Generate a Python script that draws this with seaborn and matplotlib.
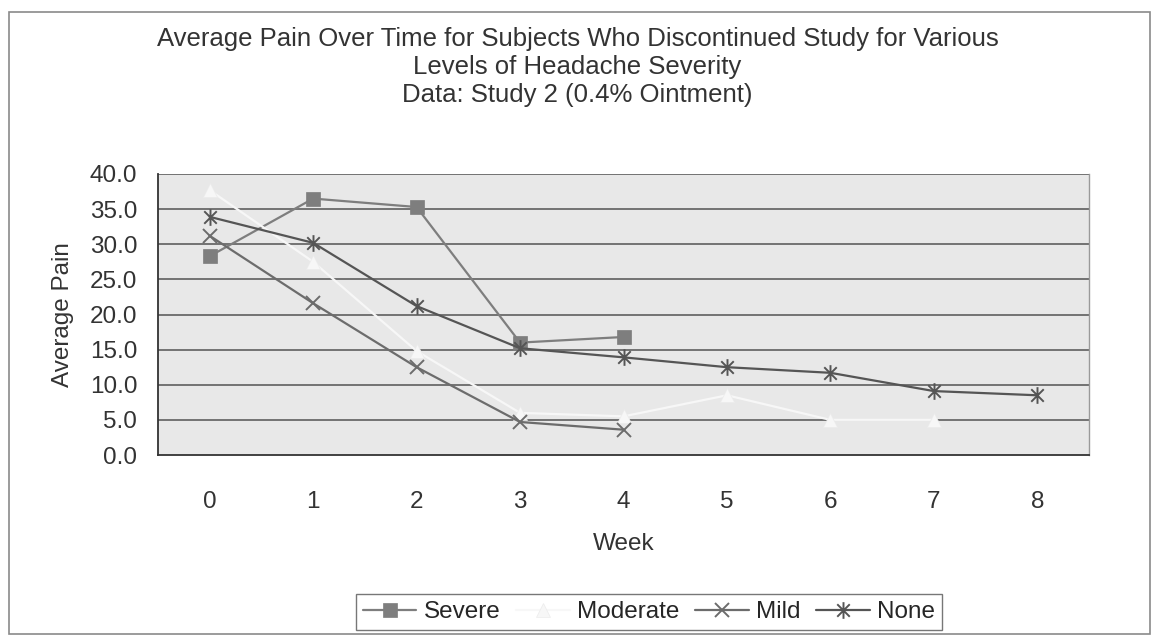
import numpy as np
import pandas as pd
import matplotlib
matplotlib.use("Agg")
import matplotlib.pyplot as plt
from matplotlib.path import Path
import seaborn as sns

weeks = [0, 1, 2, 3, 4, 5, 6, 7, 8]
severe = [28.3, 36.5, 35.3, 16.0, 16.8, np.nan, np.nan, np.nan, np.nan]
moderate = [37.7, 27.5, 14.8, 6.0, 5.5, 8.5, 5.0, 5.0, np.nan]
mild = [31.2, 21.6, 12.5, 4.7, 3.6, np.nan, np.nan, np.nan, np.nan]
none_ = [33.9, 30.2, 21.2, 15.2, 13.9, 12.5, 11.7, 9.1, 8.5]
series_names = ["Severe", "Moderate", "Mild", "None"]
yticks = [0, 5, 10, 15, 20, 25, 30, 35, 40]

df = pd.DataFrame({"Week": weeks, "Severe": severe, "Moderate": moderate,
                   "Mild": mild, "None": none_})
long = df.melt(id_vars="Week", var_name="Severity", value_name="Pain").dropna()

sns.set_theme(style="white")
plt.rcParams['font.family'] = ['Liberation Sans', 'DejaVu Sans']

asterisk = Path([(0, -1), (0, 1), (-0.75, -0.75), (0.75, 0.75), (-0.75, 0.75), (0.75, -0.75)],
                [Path.MOVETO, Path.LINETO, Path.MOVETO, Path.LINETO, Path.MOVETO, Path.LINETO])

colors = {"Severe": "#7e7e7e", "Moderate": "#f7f7f7", "Mild": "#6c6c6c", "None": "#555555"}
markers = {"Severe": "s", "Moderate": "^", "Mild": "x", "None": asterisk}
FS = 17.5
TXT = "#333333"

fig = plt.figure(figsize=(11.55, 6.37), dpi=100)
ax = fig.add_axes([158 / 1155, 1 - 455 / 637, (1089 - 158) / 1155, (455 - 174) / 637])
ax.set_facecolor("#e8e8e8")

for name in series_names:
    sub = long[long["Severity"] == name]
    c = colors[name]
    mk = markers[name]
    sns.lineplot(data=sub, x="Week", y="Pain", ax=ax, color=c, linewidth=1.6,
                 marker=mk, markersize=10 if name != "None" else 12,
                 markeredgecolor=("#ececec" if name == "Moderate" else c), markerfacecolor=c,
                 markeredgewidth=1.4 if name in ("Mild", "None") else 0.5,
                 label=name, zorder=3)

ax.set_xlim(-0.5, 8.5)
ax.set_ylim(0, 40)
ax.set_yticks(yticks)
ax.set_yticklabels([f"{v:.1f}" for v in yticks], fontsize=FS, color=TXT)
ax.set_xticks(weeks)
ax.set_xticklabels([str(w) for w in weeks], fontsize=FS, color=TXT)
ax.set_xticks(np.arange(-0.5, 9.0, 1.0), minor=True)
ax.tick_params(axis="x", which="major", length=0, pad=26)
ax.tick_params(axis="x", which="minor", length=7, width=1, color=TXT, direction="out")
ax.tick_params(axis="y", which="major", length=7, width=1, color=TXT, direction="out", pad=8)
ax.grid(False)
for v in yticks[1:]:
    ax.axhline(v, color="#5e5e5e", linewidth=1.2, zorder=1)

for s in ["left", "bottom"]:
    ax.spines[s].set_color(TXT)
    ax.spines[s].set_linewidth(1.3)
ax.spines["right"].set_color("#9a9a9a")
ax.spines["right"].set_linewidth(1.0)
ax.spines["top"].set_visible(False)

ax.set_xlabel("Week", fontsize=FS, color=TXT, labelpad=14)
ax.set_ylabel("Average Pain", fontsize=FS, color=TXT, labelpad=11)

fig.text(0.5, 1 - 67 / 637,
         "Average Pain Over Time for Subjects Who Discontinued Study for Various\n"
         "Levels of Headache Severity\nData: Study 2 (0.4% Ointment)",
         ha="center", va="center", fontsize=18.5, color=TXT, linespacing=1.22)

leg = fig.legend(*ax.get_legend_handles_labels(), loc="center",
                 bbox_to_anchor=(649 / 1155, 1 - 612 / 637), ncol=4, fontsize=FS,
                 frameon=True, fancybox=False, edgecolor="#555555", handlelength=2.2,
                 handletextpad=0.3, columnspacing=0.65, borderpad=0.3)
leg.get_frame().set_linewidth(1.0)
if ax.get_legend():
    ax.get_legend().remove()

fig.patches.append(plt.Rectangle((9 / 1155, 1 - 634 / 637), 1141 / 1155, 622 / 637,
                                 transform=fig.transFigure, fill=False,
                                 edgecolor="#8a8a8a", linewidth=1.2))

fig.savefig("out.png", dpi=100, facecolor="white")
